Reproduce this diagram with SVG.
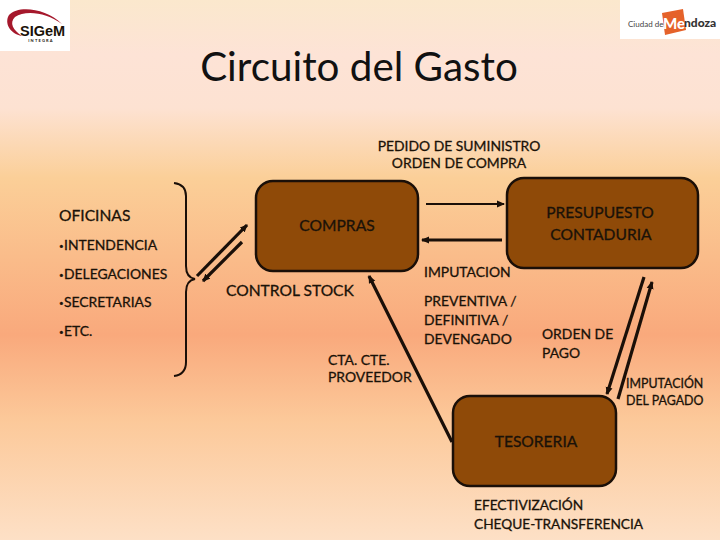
<svg xmlns="http://www.w3.org/2000/svg" width="720" height="540" viewBox="0 0 720 540">
<defs>
<linearGradient id="bg" x1="0" y1="0" x2="0" y2="1">
<stop offset="0" stop-color="#fbe8cd"/>
<stop offset="0.1" stop-color="#fde3d6"/>
<stop offset="0.2" stop-color="#fde2d2"/>
<stop offset="0.33" stop-color="#fbcf98"/>
<stop offset="0.62" stop-color="#f9a97c"/>
<stop offset="0.78" stop-color="#fcc99a"/>
<stop offset="1" stop-color="#fde0c6"/>
</linearGradient>
<marker id="ah" markerUnits="userSpaceOnUse" markerWidth="10" markerHeight="10" refX="7" refY="4" orient="auto"><path d="M0 0.5L8 4L0 7.5Z" fill="#1a0f08"/></marker>
</defs>
<style>
text{font-family:"Lato","Liberation Sans",sans-serif;fill:#1a1208;stroke:#1a1208;stroke-width:.3px;font-size:13.9px}
.big{font-size:15.6px}
.sm{font-size:12.4px}
.bu{font-size:8px}
.b{fill:#8f4a08;stroke:#1a0f08;stroke-width:2.5}
.c{fill:none;stroke:#1a0f08;stroke-width:2;marker-end:url(#ah)}
.t{stroke:#1a0f08;stroke-width:3.2;fill:none;marker-end:url(#ah)}
.br{fill:none;stroke:#1a0f08;stroke-width:2}
.m{text-anchor:middle}
</style>
<rect width="720" height="540" fill="url(#bg)"/>
<g id="logo-sigem">
<rect width="70" height="51" fill="#fff"/>
<path d="M62 24C46 8 18 5 9 15C4 23 10 34 22 36C13 30 9 23 15 17C25 10 46 12 62 24Z" fill="#a5182c"/>
<text x="20" y="36" style="font-size:14.5px;font-weight:700;font-family:'Liberation Sans',sans-serif;stroke:none" fill="#222">SIGeM</text>
<text x="41" y="41.5" class="m" style="font-size:4px;font-weight:700;letter-spacing:1.2px;stroke:none">INTEGRA</text>
</g>
<g id="logo-mendoza">
<rect x="620" y="0" width="100" height="39" fill="#fff"/>
<path d="M662 13L683 9L686 30L665 35Z" fill="#e5622a"/>
<text x="628" y="27" style="font-size:8px;fill:#444;stroke:none">Ciudad de</text>
<text x="663" y="29" style="font-size:15px;font-weight:900;fill:#fff;stroke:none">Me</text>
<text x="684" y="27" style="font-size:12px;font-weight:900;fill:#333;stroke:none">ndoza</text>
</g>
<text id="title" x="359" y="81" class="m" style="font-size:40.4px;fill:#111;stroke:none">Circuito del Gasto</text>
<g id="header-label">
<text x="459" y="151" class="m">PEDIDO DE SUMINISTRO</text>
<text x="459" y="168" class="m">ORDEN DE COMPRA</text>
</g>
<g id="oficinas">
<text x="59" y="221" class="big">OFICINAS</text>
<text x="59" y="249" class="bu">•</text><text x="64" y="250">INTENDENCIA</text>
<text x="59" y="278" class="bu">•</text><text x="64" y="279">DELEGACIONES</text>
<text x="59" y="306" class="bu">•</text><text x="64" y="307">SECRETARIAS</text>
<text x="59" y="335" class="bu">•</text><text x="64" y="336">ETC.</text>
</g>
<g id="brace"><path class="br" d="M174 183C182 184 186 188 186 196V266C186 274 189 278 195 279C189 280 186 284 186 292V362C186 371 182 375 174 376"/></g>
<g id="compras">
<rect class="b" x="256" y="181" width="162" height="90" rx="17"/>
<text x="337" y="231" class="m big">COMPRAS</text>
</g>
<g id="presupuesto">
<rect class="b" x="507" y="178" width="191" height="90" rx="17"/>
<text x="600" y="218" class="m big">PRESUPUESTO</text>
<text x="601" y="240" class="m big">CONTADURIA</text>
</g>
<g id="tesoreria">
<rect class="b" x="453" y="396" width="163" height="90" rx="17"/>
<text x="536" y="447" class="m big">TESORERIA</text>
</g>
<g id="connectors">
<path class="t" d="M197 276L247 225"/>
<path class="t" d="M242 242L203 281"/>
<path class="c" d="M426 204H504"/>
<path class="t" d="M502 240H422"/>
<path class="t" d="M452 442L369 276"/>
<path class="t" d="M644 277L607 394"/>
<path class="t" d="M618 399L652 282"/>
</g>
<g id="labels">
<text x="226" y="296" class="big">CONTROL STOCK</text>
<text x="328" y="365">CTA. CTE.</text>
<text x="328" y="382">PROVEEDOR</text>
<text x="424" y="277">IMPUTACION</text>
<text x="424" y="306">PREVENTIVA /</text>
<text x="424" y="325">DEFINITIVA /</text>
<text x="424" y="344">DEVENGADO</text>
<text x="542" y="339">ORDEN DE</text>
<text x="542" y="358">PAGO</text>
<text x="626" y="388" class="sm">IMPUTACIÓN</text>
<text x="626" y="405" class="sm">DEL PAGADO</text>
<text x="474" y="510" style="font-size:13.7px">EFECTIVIZACIÓN</text>
<text x="474" y="529" style="font-size:13.7px">CHEQUE-TRANSFERENCIA</text>
</g>
</svg>
